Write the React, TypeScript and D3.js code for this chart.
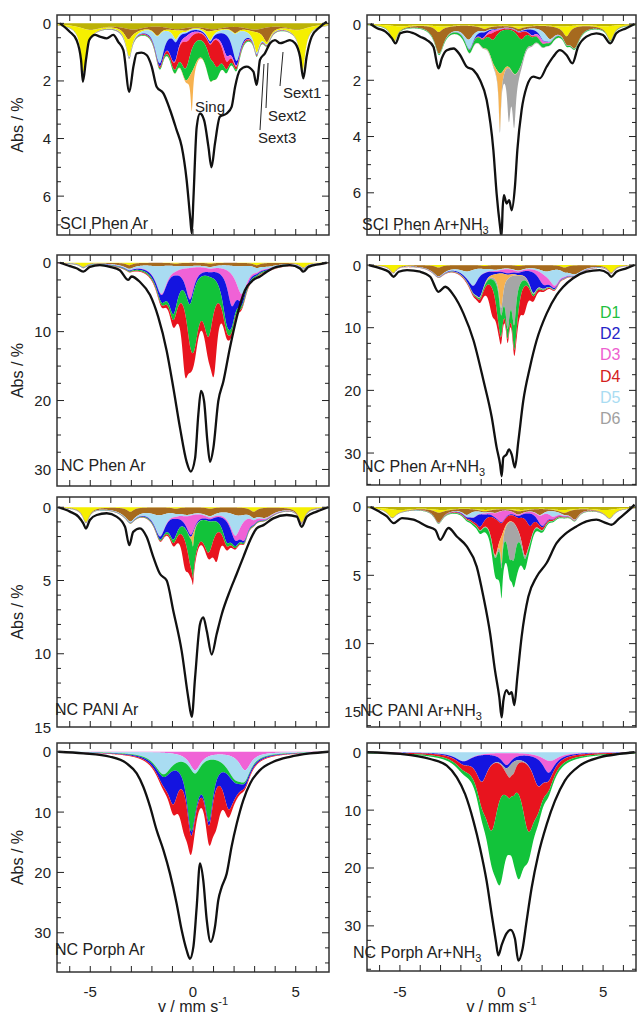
import React, { useEffect, useRef } from "react";
import * as d3 from "d3";

// colours of the fit components
const OLIVE = "#bcb206";
const YELLOW = "#f5ef00";
const BROWN = "#a66a1f";
const LBLUE = "#a9dcf2";
const BLUE = "#1414e0";
const PINK = "#f062d6";
const RED = "#e8141e";
const GREEN = "#12c33a";
const ORANGE = "#f7b24f";
const GRAY = "#a6a6a6";

type Comp = { c: string; pos: number[]; dep: number[]; w: number };

// measured spectra [v mm/s, Abs %]
const sciPhenAr = [[-6.48,0],[-6,0.29],[-5.67,0.58],[-5.45,1.27],[-5.36,2.03],[-5.21,1.27],[-5.05,0.58],[-4.77,0.4],[-4.53,0.46],[-4.2,0.52],[-3.88,0.4],[-3.64,0.64],[-3.39,0.93],[-3.1,2.38],[-2.9,1.5],[-2.74,1.04],[-2.5,1.02],[-2.26,1.1],[-2.01,1.5],[-1.77,2.2],[-1.44,2.43],[-1.12,3],[-0.8,3.7],[-0.55,4.28],[-0.31,5.44],[-0.13,6.8],[-0.06,7.29],[0.02,6.1],[0.18,3.6],[0.34,3.13],[0.54,3.36],[0.75,4.28],[0.9,5],[1.07,4.17],[1.31,3.24],[1.64,3.13],[1.88,2.9],[2.05,2.2],[2.29,1.62],[2.61,1.5],[2.94,1.68],[3.1,2.14],[3.26,1.27],[3.5,1.04],[3.75,0.69],[3.99,0.58],[4.24,0.69],[4.48,0.64],[4.72,0.58],[4.97,0.69],[5.21,1.16],[5.37,1.91],[5.53,1.16],[5.78,0.46],[6.19,0.12],[6.51,-0.06]];
const sciPhenArNH3 = [[-6.45,0],[-6.12,0.15],[-5.71,0.27],[-5.39,0.51],[-5.22,0.69],[-4.98,0.33],[-4.65,0.27],[-4.33,0.33],[-4,0.45],[-3.67,0.57],[-3.35,0.81],[-3.1,1.58],[-2.94,1.22],[-2.69,0.93],[-2.36,0.87],[-2.04,1.1],[-1.71,1.52],[-1.38,1.64],[-1.06,1.99],[-0.73,2.7],[-0.4,4.48],[-0.24,6.03],[-0.07,7.2],[0,7.57],[0.06,6.5],[0.12,6.08],[0.25,6.38],[0.38,6.26],[0.5,6.62],[0.66,5.79],[0.78,4.48],[0.99,3.06],[1.24,2.23],[1.56,1.87],[1.89,1.93],[2.22,1.52],[2.55,1.16],[2.87,0.93],[3.2,1.1],[3.49,1.4],[3.77,0.81],[4.18,0.45],[4.67,0.33],[5,0.39],[5.36,0.69],[5.65,0.33],[6.14,0.15],[6.55,0]];
const ncPhenAr = [[-6.48,0],[-5.99,0.5],[-5.67,0.8],[-5.34,1.3],[-5.02,0.6],[-4.53,0.35],[-4.04,0.6],[-3.56,1.1],[-3.15,2.5],[-2.99,2],[-2.58,2.8],[-2.09,4.7],[-1.69,7.9],[-1.28,12.8],[-0.96,18.1],[-0.63,24],[-0.31,28.9],[-0.11,30.3],[0.1,28.4],[0.26,22],[0.39,18.6],[0.54,20.1],[0.7,25.9],[0.83,28.9],[0.99,26.9],[1.23,20.1],[1.48,17.2],[1.8,12.3],[2.13,7.9],[2.53,4],[2.94,2.5],[3.26,2],[3.59,1.3],[4.07,0.6],[4.72,0.35],[5.21,0.83],[5.37,1.3],[5.62,0.6],[6.19,0.2],[6.51,0]];
const ncPhenArNH3 = [[-6.53,0],[-5.96,0.53],[-5.55,1.07],[-5.31,1.87],[-5.06,1.07],[-4.65,0.8],[-4,1.07],[-3.51,1.87],[-3.1,4.28],[-2.77,3.47],[-2.36,4.81],[-1.87,7.75],[-1.38,12],[-0.89,18.4],[-0.48,24.3],[-0.24,29.1],[-0.07,31.8],[0.01,33.7],[0.09,30.7],[0.25,30.2],[0.37,29.4],[0.5,30.2],[0.66,32.3],[0.83,28.1],[1.07,21.7],[1.4,16.3],[1.73,12],[2.22,7.75],[2.71,4.8],[3.03,3.5],[3.52,2.1],[4.18,1.07],[4.83,0.8],[5.24,1.34],[5.4,1.87],[5.65,1.07],[6.14,0.53],[6.55,0]];
const ncPaniAr = [[-6.56,0],[-5.99,0.3],[-5.58,0.64],[-5.34,1.1],[-5.21,1.45],[-5.02,0.87],[-4.69,0.53],[-4.2,0.41],[-3.72,0.64],[-3.31,1.33],[-3.1,2.59],[-2.91,1.68],[-2.58,1.44],[-2.26,2.02],[-1.93,3.4],[-1.61,4.54],[-1.28,5],[-0.96,7.06],[-0.55,9.82],[-0.23,13],[-0.06,14.3],[0.1,11.65],[0.34,7.98],[0.5,7.52],[0.67,8.44],[0.91,10.05],[1.15,8.67],[1.4,7.3],[1.8,5.69],[2.13,4.54],[2.45,3.4],[2.78,2.25],[3.1,1.44],[3.43,1.22],[3.91,0.76],[4.56,0.53],[5.05,0.64],[5.29,1.33],[5.54,0.64],[6.02,0.3],[6.59,0]];
const ncPaniArNH3 = [[-6.45,0],[-6.04,0.32],[-5.64,0.69],[-5.31,1.18],[-4.9,0.81],[-4.33,0.93],[-3.67,1.42],[-3.26,1.67],[-3.02,2.4],[-2.61,1.54],[-2.2,2.16],[-1.71,2.89],[-1.22,4.36],[-0.89,6.57],[-0.56,9.26],[-0.32,11.96],[-0.11,13.9],[0.01,15.4],[0.09,14.2],[0.25,13.4],[0.38,13.7],[0.5,13.55],[0.63,14.5],[0.78,12.45],[0.99,9.5],[1.32,6.57],[1.73,5.1],[2.22,4.1],[2.71,2.65],[3.2,1.9],[3.69,1.42],[4.18,1.05],[4.67,0.93],[5.16,1.18],[5.41,1.3],[5.81,0.81],[6.3,0.2],[6.55,-0.17]];
const ncPorphAr = [[-6.56,0],[-5.34,0.28],[-4.04,0.83],[-3.23,1.93],[-2.74,3.6],[-2.42,5.8],[-2.09,9.1],[-1.77,13],[-1.44,16.3],[-1.12,20.2],[-0.8,25.1],[-0.55,29.6],[-0.31,32.9],[-0.15,34.3],[0.02,32.3],[0.18,25.7],[0.34,18.5],[0.5,21.3],[0.67,27.9],[0.86,31.5],[1.07,29],[1.23,24.6],[1.4,22.4],[1.64,20.2],[1.88,15.7],[2.13,11.9],[2.45,8],[2.78,5.25],[3.26,3.04],[3.91,1.66],[4.72,0.83],[5.7,0.28],[6.59,0]];
const ncPorphArNH3 = [[-6.62,0],[-4.98,0.29],[-3.51,1.16],[-2.69,2.32],[-2.2,4.35],[-1.79,7.25],[-1.38,11.9],[-1.06,16.5],[-0.73,22.3],[-0.48,28.1],[-0.27,32.8],[-0.16,35.1],[0.01,33.3],[0.25,31.3],[0.45,30.7],[0.66,32.2],[0.83,36],[1.04,33.9],[1.23,29.3],[1.48,23.5],[1.81,17.7],[2.22,12.5],[2.63,8.4],[3.12,4.9],[3.85,2.32],[4.83,0.87],[5.81,0.29],[6.55,0]];

// fit components, listed from the top of the stack downwards
const sciPhenArFit: Comp[] = [
  { c: OLIVE, pos: [-5.0, -2.9, -0.8, 1.0, 3.0, 5.1], dep: [0.2, 0.18, 0.16, 0.16, 0.18, 0.2], w: 1.3 },
  { c: BROWN, pos: [-3.15, -1.74, -0.33, 0.71, 2.05, 3.6], dep: [0.35, 0.3, 0.08, 0.08, 0.2, 0.5], w: 0.45 },
  { c: YELLOW, pos: [-5.33, -3.1, -0.84, 0.84, 3.1, 5.33], dep: [1.5, 0.6, 0.3, 0.3, 0.7, 1.45], w: 0.32 },
  { c: LBLUE, pos: [-1.6, 2.13], dep: [1.0, 0.95], w: 0.5 },
  { c: BLUE, pos: [-0.97, 1.64], dep: [0.75, 0.7], w: 0.5 },
  { c: PINK, pos: [-0.25, 1.6], dep: [0.2, 0.2], w: 0.5 },
  { c: RED, pos: [-0.39, 1.15], dep: [0.9, 0.9], w: 0.6 },
  { c: GREEN, pos: [-0.01, 0.8], dep: [0.7, 0.7], w: 0.7 },
  { c: ORANGE, pos: [-0.06], dep: [1.35], w: 0.14 },
];
const sciPhenArNH3Fit: Comp[] = [
  { c: OLIVE, pos: [-5.0, -2.9, -0.8, 1.0, 3.0, 5.1], dep: [0.07, 0.07, 0.07, 0.07, 0.07, 0.07], w: 1.4 },
  { c: YELLOW, pos: [-5.3, -3.1, -0.84, 0.84, 3.2, 5.36], dep: [0.55, 0.2, 0.08, 0.08, 0.35, 0.5], w: 0.4 },
  { c: BROWN, pos: [-3.06, -1.63, -0.2, 0.9, 2.38, 3.6], dep: [0.75, 0.45, 0.05, 0.05, 0.4, 0.7], w: 0.6 },
  { c: LBLUE, pos: [-1.55, 2.05], dep: [0.35, 0.3], w: 0.45 },
  { c: BLUE, pos: [-0.95, 1.5], dep: [0.2, 0.2], w: 0.4 },
  { c: PINK, pos: [-0.5, 1.9], dep: [0.1, 0.12], w: 0.45 },
  { c: RED, pos: [-0.4, 1.0], dep: [0.25, 0.25], w: 0.4 },
  { c: GREEN, pos: [-0.07, 0.66], dep: [1.2, 1.2], w: 0.8 },
  { c: ORANGE, pos: [-0.08], dep: [2.0], w: 0.13 },
  { c: GRAY, pos: [0.36, 0.62], dep: [1.7, 1.7], w: 0.2 },
];
const ncPhenArFit: Comp[] = [
  { c: YELLOW, pos: [-5.34, -3.1, -0.84, 0.84, 3.1, 5.37], dep: [0.6, 0.35, 0.15, 0.15, 0.35, 0.7], w: 0.4 },
  { c: BROWN, pos: [-3.1, -1.7, -0.3, 0.8, 2.2, 3.6], dep: [0.45, 0.35, 0.3, 0.3, 0.35, 0.45], w: 1.2 },
  { c: LBLUE, pos: [-1.53, 2.37], dep: [4.0, 4.0], w: 0.65 },
  { c: PINK, pos: [-0.15, 1.88], dep: [4.5, 4.5], w: 0.5 },
  { c: BLUE, pos: [-0.96, 1.64], dep: [5.5, 5.5], w: 0.55 },
  { c: GREEN, pos: [0.05, 0.75], dep: [7.6, 7.6], w: 0.6 },
  { c: RED, pos: [-0.39, 1.02], dep: [9, 9], w: 0.4 },
];
const ncPhenArNH3Fit: Comp[] = [
  { c: YELLOW, pos: [-5.33, -3.1, -0.84, 0.84, 3.1, 5.4], dep: [1.2, 0.4, 0.15, 0.15, 0.4, 1.2], w: 0.4 },
  { c: BROWN, pos: [-3.1, -1.7, -0.3, 0.8, 2.2, 3.6], dep: [1.3, 0.8, 0.5, 0.5, 0.8, 1.3], w: 0.9 },
  { c: LBLUE, pos: [-1.38, 2.62], dep: [2.5, 2.5], w: 0.6 },
  { c: PINK, pos: [0.3, 2.05], dep: [0.6, 1.6], w: 0.6 },
  { c: BLUE, pos: [-1.06, 1.56], dep: [3.2, 3.2], w: 0.5 },
  { c: ORANGE, pos: [-0.02], dep: [5.5], w: 0.25 },
  { c: GRAY, pos: [0.3, 0.62], dep: [7, 7], w: 0.25 },
  { c: GREEN, pos: [-0.15, 0.72], dep: [4.5, 4.5], w: 0.4 },
  { c: RED, pos: [-0.45, 1.1], dep: [4.3, 4.3], w: 0.45 },
];
const ncPaniArFit: Comp[] = [
  { c: YELLOW, pos: [-5.21, -3.05, -0.84, 0.84, 2.95, 5.29], dep: [1.0, 0.3, 0.1, 0.1, 0.3, 1.0], w: 0.4 },
  { c: BROWN, pos: [-3.07, -1.65, -0.3, 0.8, 2.2, 3.5], dep: [0.6, 0.4, 0.35, 0.35, 0.4, 0.6], w: 1.0 },
  { c: LBLUE, pos: [-1.6, 2.05], dep: [1.4, 1.4], w: 0.6 },
  { c: PINK, pos: [-0.1, 2.5], dep: [1.3, 1.3], w: 0.5 },
  { c: BLUE, pos: [-0.96, 1.64], dep: [1.4, 1.4], w: 0.5 },
  { c: ORANGE, pos: [0.0], dep: [0.9], w: 0.1 },
  { c: GREEN, pos: [-0.02, 0.75], dep: [1.9, 1.9], w: 0.6 },
  { c: RED, pos: [-0.39, 1.15], dep: [1.9, 1.9], w: 0.4 },
];
const ncPaniArNH3Fit: Comp[] = [
  { c: OLIVE, pos: [-5.0, -2.9, -0.8, 1.0, 3.0, 5.1], dep: [0.2, 0.18, 0.16, 0.16, 0.18, 0.2], w: 1.4 },
  { c: YELLOW, pos: [-5.39, -3.1, -0.84, 0.84, 3.1, 5.32], dep: [0.6, 0.2, 0.1, 0.1, 0.2, 0.6], w: 0.5 },
  { c: BROWN, pos: [-3.1, -1.71, -0.3, 0.8, 1.89, 3.6], dep: [0.7, 0.4, 0.2, 0.2, 0.4, 0.7], w: 0.5 },
  { c: LBLUE, pos: [-1.38, 2.54], dep: [0.4, 0.4], w: 0.5 },
  { c: PINK, pos: [0.0, 2.05], dep: [0.8, 0.8], w: 0.5 },
  { c: BLUE, pos: [-1.06, 1.4], dep: [0.9, 0.9], w: 0.45 },
  { c: RED, pos: [-0.32, 1.15], dep: [2.6, 2.6], w: 0.45 },
  { c: ORANGE, pos: [0.0], dep: [2.0], w: 0.12 },
  { c: GRAY, pos: [0.4, 0.6], dep: [2.0, 2.0], w: 0.3 },
  { c: GREEN, pos: [-0.07, 0.74], dep: [2.0, 2.0], w: 0.6 },
];
const ncPorphArFit: Comp[] = [
  { c: PINK, pos: [0.1, 2.53], dep: [3.0, 3.0], w: 0.7 },
  { c: LBLUE, pos: [-1.44, 2.05], dep: [3.5, 3.5], w: 1.0 },
  { c: GREEN, pos: [-0.1, 0.78], dep: [9.5, 9.5], w: 0.5 },
  { c: BLUE, pos: [-0.96, 1.72], dep: [5.5, 5.5], w: 0.6 },
  { c: RED, pos: [-0.44, 1.12], dep: [6.5, 6.5], w: 0.6 },
];
const ncPorphArNH3Fit: Comp[] = [
  { c: LBLUE, pos: [-1.87, 2.38], dep: [1.5, 1.5], w: 1.0 },
  { c: PINK, pos: [0.25, 2.3], dep: [2.0, 2.0], w: 0.6 },
  { c: BLUE, pos: [-0.97, 1.8], dep: [4.5, 4.5], w: 0.7 },
  { c: GRAY, pos: [0.4, 0.6], dep: [1.5, 1.5], w: 0.3 },
  { c: RED, pos: [-0.48, 1.32], dep: [10.8, 10.8], w: 0.8 },
  { c: GREEN, pos: [-0.07, 0.83], dep: [13, 13], w: 0.7 },
];

const xTickLabels = [-5, 0, 5];
const legendNames = ["D1", "D2", "D3", "D4", "D5", "D6"];
const legendColors = ["#1fc040", "#2424c8", "#ee5fd0", "#d42020", "#a9dcf2", "#a0a0a0"];

const FONT = "'Liberation Sans', Arial, sans-serif";

const panels = [
  { name: "SCI Phen Ar", sub: "", data: sciPhenAr, fit: sciPhenArFit, col: 0, top: 15, bot: 235, dom: [-0.29, 7.35], major: [0, 2, 4, 6], minor: 0.5, lx: 60, ly: 229 },
  { name: "SCI Phen Ar+NH", sub: "3", data: sciPhenArNH3, fit: sciPhenArNH3Fit, col: 1, top: 15, bot: 235, dom: [-0.32, 7.5], major: [0, 2, 4, 6], minor: 0.5, lx: 362, ly: 230 },
  { name: "NC Phen Ar", sub: "", data: ncPhenAr, fit: ncPhenArFit, col: 0, top: 255, bot: 486, dom: [-1.12, 32.4], major: [0, 10, 20, 30], minor: 2.5, lx: 61, ly: 471 },
  { name: "NC Phen Ar+NH", sub: "3", data: ncPhenArNH3, fit: ncPhenArNH3Fit, col: 1, top: 255, bot: 485, dom: [-1.6, 35.1], major: [0, 10, 20, 30], minor: 2.5, lx: 362, ly: 472 },
  { name: "NC PANI Ar", sub: "", data: ncPaniAr, fit: ncPaniArFit, col: 0, top: 497, bot: 727, dom: [-0.7, 15.0], major: [0, 5, 10, 15], minor: 1, lx: 55, ly: 715 },
  { name: "NC PANI Ar+NH", sub: "3", data: ncPaniArNH3, fit: ncPaniArNH3Fit, col: 1, top: 497, bot: 727, dom: [-0.73, 16.1], major: [0, 5, 10, 15], minor: 1, lx: 360, ly: 716 },
  { name: "NC Porph Ar", sub: "", data: ncPorphAr, fit: ncPorphArFit, col: 0, top: 743, bot: 972, dom: [-1.45, 36.5], major: [0, 10, 20, 30], minor: 2.5, lx: 55, ly: 955 },
  { name: "NC Porph Ar+NH", sub: "3", data: ncPorphArNH3, fit: ncPorphArNH3Fit, col: 1, top: 743, bot: 971, dom: [-1.6, 37.8], major: [0, 10, 20, 30], minor: 2.5, lx: 353, ly: 958 },
];
const columns = [{ x0: 57, x1: 329 }, { x0: 367, x1: 636 }];

function lorentz(v: number, comp: Comp) {
  let s = 0;
  comp.pos.forEach((p, i) => {
    const t = (v - p) / (comp.w / 2);
    s += comp.dep[i] / (1 + t * t);
  });
  return s;
}

function App() {
  const ref = useRef<SVGSVGElement>(null);

  useEffect(() => {
    const svg = d3.select(ref.current);
    svg.selectAll("*").remove();

    const grid = d3.range(-6.62, 6.621, 0.01);

    panels.forEach((pn, k) => {
      const col = columns[pn.col];
      const x = d3.scaleLinear().domain([-6.62, 6.62]).range([col.x0, col.x1]);
      const y = d3.scaleLinear().domain(pn.dom).range([pn.top, pn.bot]);
      const g = svg.append("g");

      g.append("clipPath").attr("id", "clip" + k)
        .append("rect").attr("x", col.x0).attr("y", pn.top)
        .attr("width", col.x1 - col.x0).attr("height", pn.bot - pn.top);
      const plot = g.append("g").attr("clip-path", `url(#clip${k})`);

      // stacked components
      let cum = grid.map(() => 0);
      pn.fit.forEach((comp) => {
        const prev = cum;
        const next = grid.map((v, i) => prev[i] + lorentz(v, comp));
        const pts = grid.map((v, i) => [v, prev[i], next[i]]);
        plot.append("path").datum(pts)
          .attr("fill", comp.c)
          .attr("d", d3.area<number[]>()
            .x((d) => x(d[0])).y0((d) => y(d[1])).y1((d) => y(d[2]))(pts) as string);
        cum = next;
      });

      // spectrum
      plot.append("path").datum(pn.data)
        .attr("fill", "none").attr("stroke", "#111").attr("stroke-width", 2.3)
        .attr("stroke-linejoin", "round")
        .attr("d", d3.line<number[]>().x((d) => x(d[0])).y((d) => y(d[1])).curve(d3.curveMonotoneX));

      // frame and ticks
      g.append("rect").attr("x", col.x0).attr("y", pn.top)
        .attr("width", col.x1 - col.x0).attr("height", pn.bot - pn.top)
        .attr("fill", "none").attr("stroke", "#333").attr("stroke-width", 1.5);

      const xt = d3.range(-6, 7, 1);
      xt.forEach((t) => {
        g.append("line").attr("x1", x(t)).attr("x2", x(t)).attr("y1", pn.bot).attr("y2", pn.bot - 6).attr("stroke", "#222");
        g.append("line").attr("x1", x(t)).attr("x2", x(t)).attr("y1", pn.top).attr("y2", pn.top + 6).attr("stroke", "#222");
      });
      const minors = d3.range(0, pn.dom[1], pn.minor);
      minors.forEach((t) => {
        const major = pn.major.includes(t);
        const len = major ? 7 : 4;
        g.append("line").attr("x1", col.x0).attr("x2", col.x0 + len).attr("y1", y(t)).attr("y2", y(t)).attr("stroke", "#222");
        g.append("line").attr("x1", col.x1).attr("x2", col.x1 - len).attr("y1", y(t)).attr("y2", y(t)).attr("stroke", "#222");
      });
      pn.major.forEach((t) => {
        g.append("text").attr("x", col.x0 - 6).attr("y", y(t) + 5.5)
          .attr("text-anchor", "end").attr("font-size", 15).attr("font-family", FONT).attr("fill", "#222")
          .text(t);
      });

      // sample label
      const lab = g.append("text").attr("x", pn.lx).attr("y", pn.ly)
        .attr("font-size", 16).attr("font-family", FONT).attr("fill", "#222");
      lab.append("tspan").text(pn.name);
      if (pn.sub) lab.append("tspan").attr("font-size", 11).attr("dy", 4).text(pn.sub);

      if (pn.col === 0) {
        const cy = (pn.top + pn.bot) / 2;
        g.append("text").attr("transform", `translate(23,${cy}) rotate(-90)`)
          .attr("text-anchor", "middle").attr("font-size", 16).attr("font-family", FONT).attr("fill", "#222")
          .text("Abs / %");
      }
      if (k >= 6) {
        xTickLabels.forEach((t) => {
          g.append("text").attr("x", x(t)).attr("y", 997).attr("text-anchor", "middle")
            .attr("font-size", 15).attr("font-family", FONT).attr("fill", "#222").text(t);
        });
        const xl = g.append("text").attr("x", x(0)).attr("y", 1012).attr("text-anchor", "middle")
          .attr("font-size", 16).attr("font-family", FONT).attr("fill", "#222");
        xl.append("tspan").text("v / mm s");
        xl.append("tspan").attr("font-size", 11).attr("dy", -7).text("-1");
      }

      if (k === 3) {
        legendNames.forEach((nm, i) => {
          g.append("text").attr("x", 600).attr("y", 318 + i * 21.2)
            .attr("font-size", 16).attr("font-family", FONT).attr("fill", legendColors[i]).text(nm);
        });
      }

      if (k === 0) {
        const ann = [
          { t: "Sing", x: 195, y: 112 },
          { t: "Sext1", x: 283, y: 98 },
          { t: "Sext2", x: 268, y: 121 },
          { t: "Sext3", x: 258, y: 143 },
        ];
        ann.forEach((a) => {
          g.append("text").attr("x", a.x).attr("y", a.y).attr("font-size", 15)
            .attr("font-family", FONT).attr("fill", "#222").text(a.t);
        });
        const leaders = [
          [280, 86, 283, 52],
          [266, 108, 268, 63],
          [260, 130, 264, 64],
        ];
        leaders.forEach((l) => {
          g.append("line").attr("x1", l[0]).attr("y1", l[1]).attr("x2", l[2]).attr("y2", l[3])
            .attr("stroke", "#222").attr("stroke-width", 1);
        });
      }
    });
  }, []);

  return (
    <svg ref={ref} width={639} height={1014} style={{ display: "block", position: "absolute", left: 0, top: 0, background: "#fff" }} />
  );
}

export default App;
